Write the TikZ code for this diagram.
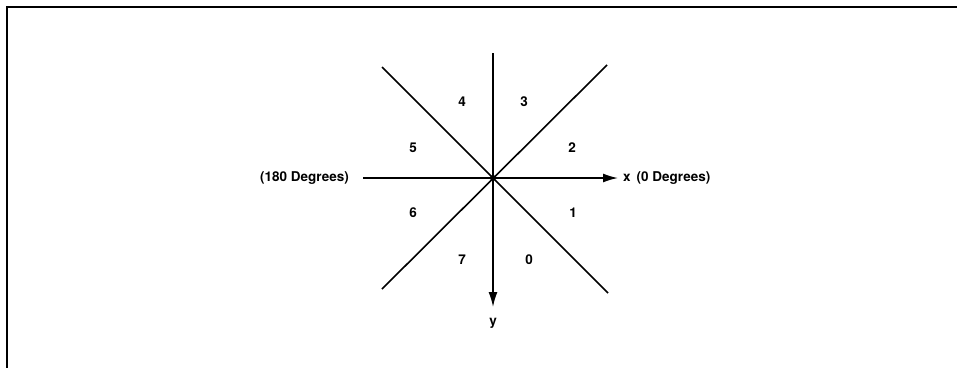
\documentclass[tikz,border=0pt]{standalone}
\usepackage{fontspec}
\setmainfont{TeX Gyre Heros}
\usetikzlibrary{arrows.meta}
\begin{document}
\begin{tikzpicture}[x=1pt,y=-1pt,
  ax/.style={line width=1.6pt},
  tip/.style={-{Latex[length=15pt,width=9pt]}},
  lab/.style={font=\fontsize{13.5}{16}\selectfont\bfseries, inner sep=0pt},
  frame/.style={line width=2pt}]
\useasboundingbox (0,0) rectangle (957,368);
% frame
\coordinate (fa) at (7,6.5);
\coordinate (fb) at (957,6.5);
\coordinate (fc) at (7,368);
\draw[frame] (fb) -- (fa) -- (fc);
% center
\coordinate (o) at (493,178);
\coordinate (top) at (493,53);
\coordinate (ybot) at (493,307);
\coordinate (ul) at (382,67);
\coordinate (ur) at (607,65);
\coordinate (ll) at (382,289);
\coordinate (lr) at (608,293);
\coordinate (xl) at (363,178);
\coordinate (xr) at (618,178);
% labels
\node[lab, anchor=east] (deg180) at (349,178) {(180 Degrees)};
\node[lab, anchor=west] (deg0) at (623,178) {x\, (0 Degrees)};
\node[lab] (ylab) at (493,323) {y};
\node[lab] (n4) at (462,102) {4};
\node[lab] (n3) at (524,102) {3};
\node[lab] (n5) at (413,148) {5};
\node[lab] (n2) at (572,148) {2};
\node[lab] (n6) at (413,213) {6};
\node[lab] (n1) at (573,213) {1};
\node[lab] (n7) at (462,260) {7};
\node[lab] (n0) at (529,260) {0};
% axes
\draw[ax] (ul) -- (lr);
\draw[ax] (ur) -- (ll);
\draw[ax] (top) -- (o);
\draw[ax,tip] (o) -- (ybot);
\draw[ax,tip] (xl) -- (xr);
\fill (o) circle (3pt);
\end{tikzpicture}
\end{document}
